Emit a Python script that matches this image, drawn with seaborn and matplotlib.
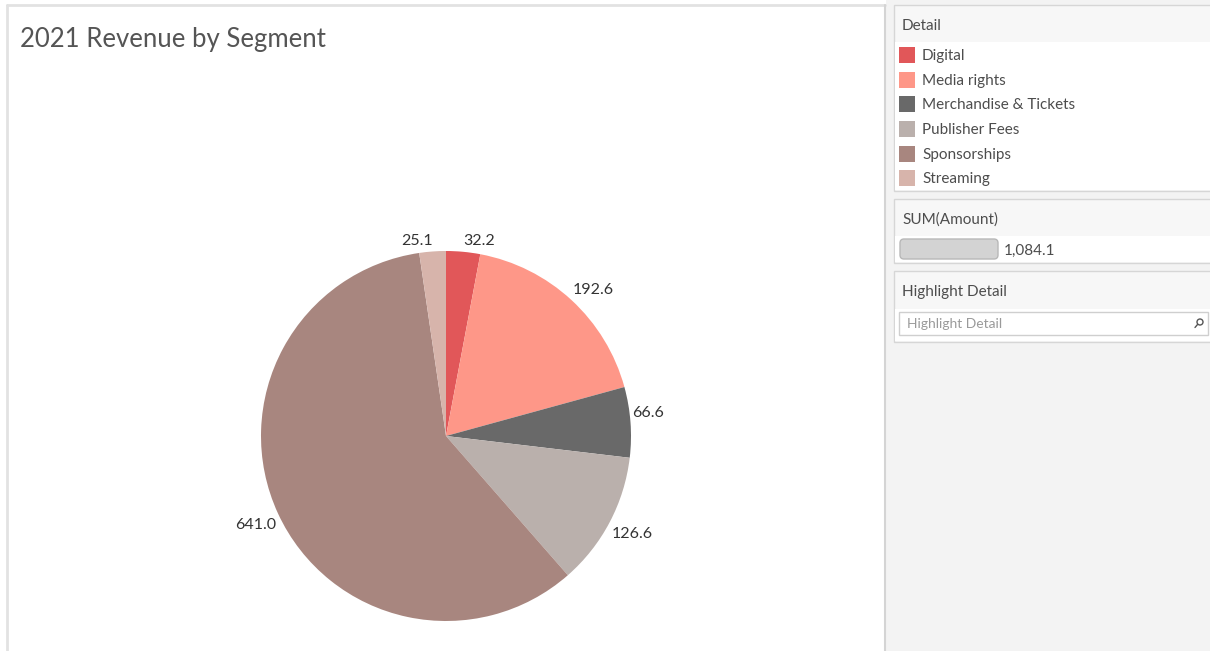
import matplotlib
matplotlib.use("Agg")
import numpy as np
import matplotlib.pyplot as plt
from matplotlib.patches import Rectangle, FancyBboxPatch, Circle
from matplotlib.lines import Line2D
import seaborn as sns

# Data
segments = ["Digital", "Media rights", "Merchandise & Tickets",
            "Publisher Fees", "Sponsorships", "Streaming"]
amounts = [32.2, 192.6, 66.6, 126.6, 641.0, 25.1]
segment_colors = ["#e15759", "#fe9788", "#696969", "#bab0ac", "#a8867f", "#d7b4ab"]
title_text = "2021 Revenue by Segment"

sns.set_theme(style="white")
plt.rcParams["font.family"] = ["Lato", "DejaVu Sans"]
palette = sns.color_palette(segment_colors)

W, H, DPI = 1210, 651, 100
fig = plt.figure(figsize=(W / DPI, H / DPI), dpi=DPI)
fig.patch.set_facecolor("white")

# Overlay axes in pixel coordinates for the dashboard frame
bg = fig.add_axes([0, 0, 1, 1], zorder=0)
bg.set_xlim(0, W)
bg.set_ylim(H, 0)
bg.axis("off")

# side panel background
bg.add_patch(Rectangle((886, 0), W - 886, H, facecolor="#f3f3f3", edgecolor="none"))
# main panel borders
bg.add_line(Line2D([7, 7], [5, H], color="#e2e2e2", lw=2))
bg.add_line(Line2D([7, 885], [5, 5], color="#e2e2e2", lw=2))
bg.add_line(Line2D([885, 885], [5, H], color="#d4d4d4", lw=1.5))

text_col = "#4d4d4d"

def card(y0, y1, header_h, title):
    bg.add_patch(Rectangle((894, y0), W - 894 + 2, y1 - y0, facecolor="#f7f7f7",
                           edgecolor="#d6d6d6", lw=1))
    bg.add_patch(Rectangle((895, y0 + header_h), W - 895, y1 - y0 - header_h - 1,
                           facecolor="white", edgecolor="none"))
    bg.text(902, y0 + header_h / 2 + 2, title, fontsize=11, color=text_col,
            va="center", ha="left")

# legend card
card(5, 191, 37, "Detail")
legend_y = [55, 80, 104, 129, 154, 178]
for name, col, yy in zip(segments, palette, legend_y):
    bg.add_patch(Rectangle((899, yy - 8), 16, 16, facecolor=col, edgecolor="none"))
    bg.text(922, yy + 1, name, fontsize=11, color=text_col, va="center", ha="left")

# size card
card(199, 263, 37, "SUM(Amount)")
bg.add_patch(FancyBboxPatch((900, 239), 98, 20, boxstyle="round,pad=0,rounding_size=4",
                            facecolor="#d3d3d3", edgecolor="#b8b8b8", lw=1))
bg.text(1004, 250.5, f"{sum(amounts):,.1f}", fontsize=11, color=text_col,
        va="center", ha="left")

# highlight card
card(271, 342, 38, "Highlight Detail")
bg.add_patch(Rectangle((899, 312), W - 899 - 2, 23, facecolor="white",
                       edgecolor="#cfcfcf", lw=1))
bg.text(907, 324.5, "Highlight Detail", fontsize=10, color="#9a9a9a",
        va="center", ha="left")
bg.add_patch(Circle((1200, 322), 3, facecolor="none", edgecolor="#555555", lw=1))
bg.add_line(Line2D([1197.5, 1195], [324.5, 327.5], color="#555555", lw=1))

# title
bg.text(20, 39, title_text, fontsize=18.5, color="#555555", va="center", ha="left")

# Pie chart axes covering the main panel; 185 px per data unit
R = 185.0
cx, cy = 446.0, 436.0
x0, x1, y0, y1 = 8, 884, 6, H
ax = fig.add_axes([x0 / W, 0, (x1 - x0) / W, (H - y0) / H], zorder=1)
ax.patch.set_alpha(0)
wedges, _ = ax.pie(
    amounts,
    colors=palette,
    startangle=90,
    counterclock=False,
    wedgeprops=dict(linewidth=0, edgecolor="none"),
)

# value labels just outside each wedge, at its mid-angle
for w, v in zip(wedges, amounts):
    ang = np.deg2rad((w.theta1 + w.theta2) / 2)
    x, y = 1.01 * np.cos(ang), 1.01 * np.sin(ang)
    upper = y > 0
    ax.annotate(f"{v:.1f}", xy=(x, y),
                xytext=(0, 1.5 if upper else -2.5), textcoords="offset points",
                ha="left" if x > 0 else "right",
                va="bottom" if upper else "top",
                fontsize=11.5, color="#333333")

ax.set_aspect("auto")
ax.set_xlim((x0 - cx) / R, (x1 - cx) / R)
ax.set_ylim(-(H - cy) / R, (cy - y0) / R)
ax.axis("off")

fig.savefig("out.png", dpi=DPI, facecolor="white")
